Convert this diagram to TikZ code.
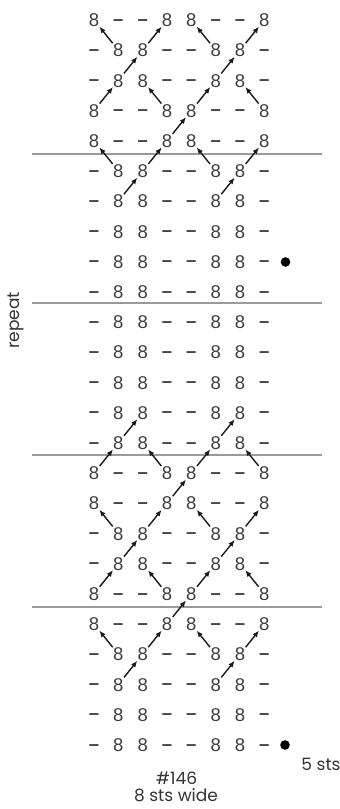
\documentclass[tikz,border=0pt]{standalone}
\usepackage{fontspec}
\setmainfont{Poppins}
\newfontfamily\chartfont{Liberation Sans}
\usetikzlibrary{arrows.meta}
\definecolor{sym}{HTML}{3E3E3E}
\definecolor{arrcol}{HTML}{1A1A1A}
\definecolor{rulecol}{HTML}{9A9A9A}
\definecolor{lblcol}{HTML}{333333}
\begin{document}
\begin{tikzpicture}[x=1pt,y=-1pt,
  cell/.style={inner sep=0pt, text=sym, font=\chartfont\fontsize{18.5}{18.5}\selectfont, text height=13.2pt, text depth=0pt},
  stitcharrow/.style={draw=arrcol, line width=1.4pt, -{Latex[length=6.5pt,width=5.4pt]}, shorten <=9pt, shorten >=8.5pt},
  rowline/.style={draw=rulecol, line width=1.1pt},
  lbl/.style={text=lblcol, inner sep=0pt, font=\fontsize{17}{17}\selectfont},
  bobble/.style={circle, fill=black, inner sep=0pt, minimum size=9.6pt}]
\useasboundingbox (0,0) rectangle (340,809);
% rules
\foreach \y in {154,303,455,607} \draw[rowline] (32,\y) -- (322,\y);
% grid of symbols (1 = row type A: 8 - - 8 8 - - 8 ; 0 = type B: - 8 8 - - 8 8 -)
\foreach \r/\t in {0/1,1/0,2/0,3/1,4/1,5/0,6/0,7/0,8/0,9/0,10/0,11/0,12/0,13/0,14/0,15/1,16/1,17/0,18/0,19/1,20/1,21/0,22/0,23/0,24/0} {
  \foreach \c in {0,...,7} {
    \pgfmathtruncatemacro\m{mod(\c,4)}
    \pgfmathtruncatemacro\e{(((\m==0)||(\m==3))==\t) ? 1 : 0}
    \ifnum\e=1
      \node[cell] (n-\r-\c) at ({94+24.33*\c},{20+30.2*\r}) {8};
    \else
      \node[cell] (n-\r-\c) at ({94+24.33*\c},{20+30.2*\r}) {\raisebox{1.4pt}{\bfseries –}};
    \fi
  }
}
% arrows
\foreach \a/\b/\p/\q in {1/1/0/0,1/2/0/3,1/5/0/4,1/6/0/7,
  2/1/1/2,2/5/1/6,
  3/0/2/1,3/3/2/2,3/4/2/5,3/7/2/6,
  4/3/3/4,
  5/1/4/0,5/2/4/3,5/5/4/4,5/6/4/7,
  6/1/5/2,6/5/5/6,
  14/1/13/2,14/5/13/6,
  15/0/14/1,15/3/14/2,15/4/14/5,15/7/14/6,
  16/3/15/4,
  17/1/16/0,17/2/16/3,17/5/16/4,17/6/16/7,
  18/1/17/2,18/5/17/6,
  19/0/18/1,19/3/18/2,19/4/18/5,19/7/18/6,
  20/3/19/4,
  21/1/20/0,21/2/20/3,21/5/20/4,21/6/20/7,
  22/1/21/2,22/5/21/6}
  \draw[stitcharrow] (n-\a-\b.center) -- (n-\p-\q.center);
% bobbles
\node[bobble] (dot1) at (285.5,262) {};
\node[bobble] (dot2) at (285,745) {};
% labels
\node[lbl, rotate=90] (rep) at (16,320.5) {repeat};
\node[lbl] (five) at (321,764.5) {5 sts};
\node[lbl] (hash) at (176.5,778) {\#146};
\node[lbl] (wide) at (176,795.5) {8 sts wide};
\end{tikzpicture}
\end{document}
